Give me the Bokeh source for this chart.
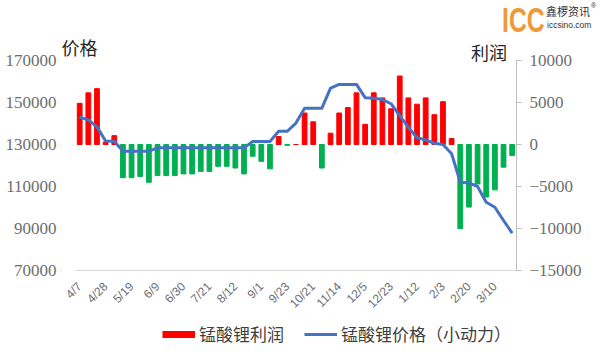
import math
from bokeh.plotting import figure
from bokeh.models import (Range1d, LinearAxis, FixedTicker, BasicTickFormatter,
                          Label, Legend, LegendItem, Div)
from bokeh.layouts import column
from bokeh.embed import file_html
from bokeh.resources import INLINE

# ---- data ----
tick_labels = ["4/7", "4/28", "5/19", "6/9", "6/30", "7/21", "8/12", "9/1", "9/23",
               "10/21", "11/14", "12/5", "12/23", "1/12", "2/3", "2/20", "3/10"]
profit = [4900, 6150, 6650, 300, 1050, -3950, -3950, -3800, -4500, -3700,
          -3700, -3700, -3500, -3500, -3200, -3200, -2600, -2600, -2800, -3500,
          -1400, -2000, -2900, 950, -100, 0, 3750, 2700, -2800, 1350,
          3750, 4400, 6150, 2400, 6150, 5550, 4250, 8150, 5550, 4800,
          5550, 3550, 5100, 700, -10000, -7450, -4700, -6250, -5400, -2700,
          -1300]
price = [143000, 141700, 138400, 131700, 131600, 126800, 126800, 126800, 126800, 128400,
         128400, 128400, 128400, 128400, 128400, 128400, 128400, 128400, 128400, 128400,
         131400, 131400, 131400, 136300, 136300, 140200, 147300, 147300, 147300, 156800,
         158600, 158600, 158600, 152300, 152000, 151400, 149400, 143800, 138200, 133200,
         132200, 130600, 130000, 125600, 112000, 111700, 110000, 102500, 100100, 93800,
         87800]
price_ticks = [70000, 90000, 110000, 130000, 150000, 170000]
profit_ticks = [-15000, -10000, -5000, 0, 5000, 10000]
label_step = 3
series_names = ["锰酸锂利润", "锰酸锂价格（小动力）"]
axis_titles = ["价格", "利润"]

n = len(profit)
idx = list(range(n))
pos_x = [i for i, v in zip(idx, profit) if v >= 0]
pos_v = [v for v in profit if v >= 0]
neg_x = [i for i, v in zip(idx, profit) if v < 0]
neg_v = [v for v in profit if v < 0]

RED, GREEN, BLUE = "#FF0000", "#00B050", "#4472C4"
GRAY = "#6E6E6E"

# ---- layout geometry (pixels) ----
HEADER_H = 32
LEGEND_H = 28
FIG_W = 584
FRAME_L, FRAME_R = 58, 520          # frame edges (figure px)
CAT_L = 75                          # left edge of first category
TICK_TOP_PX = 60 - HEADER_H         # y of the 170000 / 10000 tick inside the figure
FRAME_B = 270 - HEADER_H            # frame bottom (figure px)
BOTTOM = 346 - LEGEND_H - 270       # space for x tick labels
FIG_H = FRAME_B + BOTTOM
cat_px = (FRAME_R - CAT_L) / n
x_start = -0.5 - (CAT_L - FRAME_L) / cat_px
span_px = FRAME_B - TICK_TOP_PX
extra = TICK_TOP_PX / span_px
p_lo, p_hi = price_ticks[0], price_ticks[-1]
q_lo, q_hi = profit_ticks[0], profit_ticks[-1]

p = figure(width=FIG_W, height=FIG_H, output_backend="svg", toolbar_location=None,
           x_range=Range1d(x_start, n - 0.5),
           y_range=Range1d(p_lo, p_hi + (p_hi - p_lo) * extra),
           min_border_left=FRAME_L, min_border_right=FIG_W - FRAME_R,
           min_border_top=0, min_border_bottom=BOTTOM,
           outline_line_color=None, background_fill_color="white", border_fill_color="white")
p.extra_y_ranges = {"profit": Range1d(q_lo, q_hi + (q_hi - q_lo) * extra)}
p.grid.visible = False

# left axis (price)
ya = p.yaxis[0]
ya.ticker = FixedTicker(ticks=price_ticks)
ya.formatter = BasicTickFormatter(use_scientific=False)
ya.axis_line_color = None
ya.major_tick_line_color = None
ya.major_tick_out = 0
ya.minor_tick_line_color = None
ya.major_label_standoff = 2
ya.major_label_text_font = "Liberation Serif"
ya.major_label_text_font_size = "17px"
ya.major_label_text_color = GRAY

# right axis (profit)
ra = LinearAxis(y_range_name="profit", ticker=FixedTicker(ticks=profit_ticks),
                formatter=BasicTickFormatter(use_scientific=False), bounds=(q_lo, q_hi))
ra.axis_line_color = "#BFBFBF"
ra.major_tick_line_color = "#BFBFBF"
ra.major_tick_out = 5
ra.major_tick_in = 0
ra.minor_tick_line_color = None
ra.major_label_standoff = 8
ra.major_label_text_font = "Liberation Serif"
ra.major_label_text_font_size = "17px"
ra.major_label_text_color = GRAY
p.add_layout(ra, "right")

# bottom axis
xa = p.xaxis[0]
tick_pos = [i * label_step for i in range(len(tick_labels))]
xa.ticker = FixedTicker(ticks=tick_pos)
xa.major_label_overrides = {t: lab for t, lab in zip(tick_pos, tick_labels)}
xa.bounds = (-0.5, n - 0.5)
xa.axis_line_color = "#D9D9D9"
xa.major_tick_line_color = None
xa.minor_tick_line_color = None
xa.major_label_orientation = math.pi / 4
xa.major_label_standoff = 8
xa.major_label_text_font = "Liberation Sans"
xa.major_label_text_font_size = "12px"
xa.major_label_text_color = GRAY

# bars
p.vbar(x=pos_x, top=pos_v, bottom=0, width=0.55, color=RED, y_range_name="profit")
p.vbar(x=neg_x, top=neg_v, bottom=0, width=0.55, color=GREEN, y_range_name="profit")

# price line
p.line(x=idx, y=price, line_color=BLUE, line_width=3, line_join="round")

# axis titles (inside the frame area, above the top ticks)
def xs(px):
    return x_start + (px - FRAME_L) / cat_px
def ys(page_y):
    return p_lo + (270 - page_y) * (p_hi - p_lo) / span_px

p.add_layout(Label(x=xs(61), y=ys(46), text=axis_titles[0], text_font="Noto Sans CJK SC",
                   text_font_size="18px", text_color="#262626", text_baseline="middle"))
p.add_layout(Label(x=xs(474), y=ys(51), text=axis_titles[1], text_font="Noto Sans CJK SC",
                   text_font_size="18px", text_color="#262626", text_baseline="middle"))

# legend strip (own small figure; frame is aligned with the main frame by the column)
lg = figure(width=FIG_W, height=LEGEND_H, output_backend="svg", toolbar_location=None,
            x_range=Range1d(0, 1), y_range=Range1d(0, 1), x_axis_type=None, y_axis_type=None,
            min_border=0, outline_line_color=None, border_fill_color="white")
lg.grid.visible = False
sw_bar = lg.line(x=[math.nan], y=[math.nan], line_color=RED, line_width=7, line_cap="butt")
sw_line = lg.line(x=[math.nan], y=[math.nan], line_color=BLUE, line_width=3)
legend = Legend(items=[LegendItem(label=series_names[0], renderers=[sw_bar]),
                       LegendItem(label=series_names[1], renderers=[sw_line])],
                orientation="horizontal", location=(162 - FRAME_L, 0),
                glyph_width=33, glyph_height=20, label_standoff=4, spacing=20,
                padding=0, margin=0, border_line_color=None, background_fill_alpha=0,
                label_text_font="Noto Sans CJK SC", label_text_font_size="17px",
                label_text_color="#404040", label_height=20)
lg.add_layout(legend, "center")

# logo header
header_html = (
    '<div style="position:relative;width:584px;height:32px;">'
    '<span style="position:absolute;left:502px;top:2px;font-family:\'Liberation Sans\';'
    'font-weight:bold;font-size:35px;line-height:35px;color:#EE9A3A;'
    'transform:scaleX(0.71);transform-origin:left top;white-space:nowrap;">ICC</span>'
    '<span style="position:absolute;left:546px;top:4px;font-family:\'Noto Sans CJK SC\';'
    'font-size:11px;line-height:14px;color:#333;white-space:nowrap;">鑫椤资讯</span>'
    '<span style="position:absolute;left:591px;top:2px;font-family:\'Liberation Sans\';'
    'font-size:7px;line-height:8px;color:#333;">®</span>'
    '<span style="position:absolute;left:547px;top:20px;font-family:\'Liberation Sans\';'
    'font-size:8.5px;line-height:11px;color:#333;white-space:nowrap;">iccsino.com</span>'
    '</div>'
)
header = Div(text=header_html, width=FIG_W, height=HEADER_H,
             styles={"margin": "0", "padding": "0"})

layout = column(header, p, lg, spacing=0)
open("out.html", "w").write(file_html(layout, INLINE))
